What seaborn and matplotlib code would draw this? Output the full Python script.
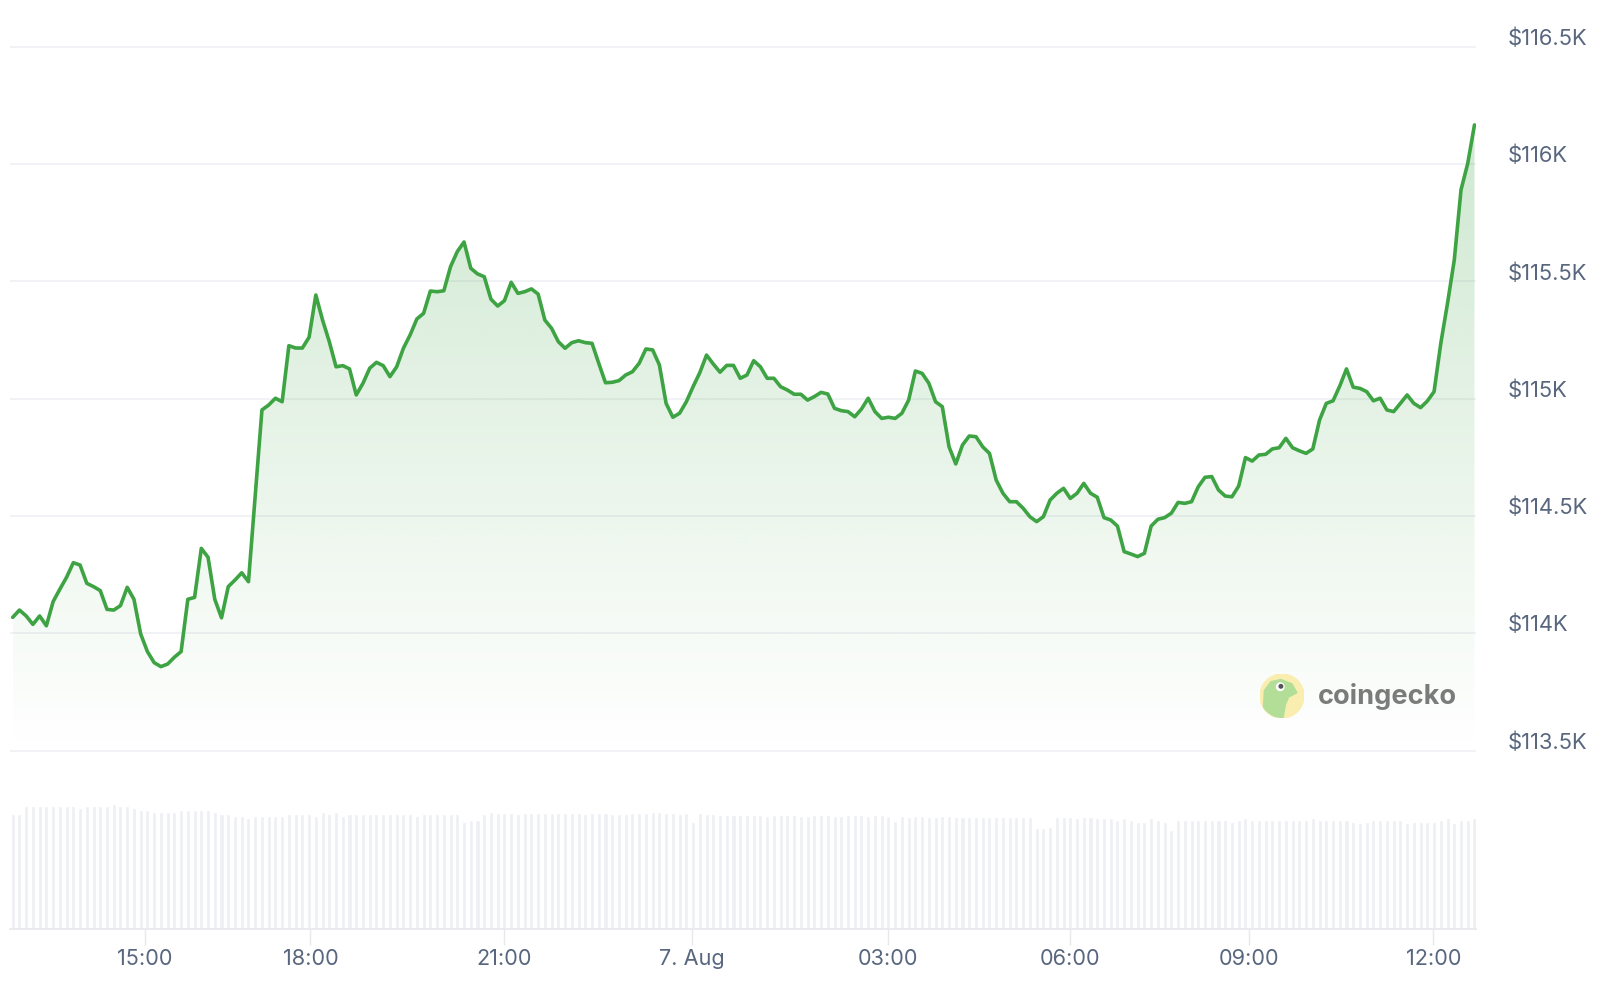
import numpy as np
import pandas as pd
import seaborn as sns
import matplotlib.pyplot as plt
from matplotlib.patches import Circle, Polygon
from matplotlib.transforms import ScaledTranslation

# Price (USD), one point every ~6.6 min
price = [
    114068, 114099, 114074, 114038, 114074, 114032, 114135, 114188, 114239, 114301,
    114291, 114213, 114199, 114182, 114102, 114099, 114118, 114196, 114145, 113997,
    113922, 113875, 113858, 113869, 113898, 113922, 114145, 114153, 114362, 114324,
    114145, 114066, 114199, 114227, 114258, 114220,
    114585, 114952, 114973, 115002, 114987, 115226, 115216, 115216, 115262, 115442,
    115335, 115243, 115136, 115141, 115127, 115016, 115066, 115130, 115155, 115141,
    115094, 115136, 115215, 115272, 115340, 115364, 115459, 115456, 115460, 115563,
    115627, 115668, 115556, 115532, 115520, 115424,
    115395, 115418, 115496, 115449, 115456, 115468, 115446, 115335, 115300, 115243,
    115215, 115239, 115247, 115239, 115236, 115151, 115068, 115070, 115077, 115101,
    115115, 115151, 115212, 115208, 115144, 114980, 114921, 114938, 114987, 115051,
    115111, 115186, 115148, 115113, 115142, 115142, 115087,
    115101, 115162, 115136, 115087, 115087, 115051, 115037, 115019, 115019, 114994,
    115009, 115027, 115020, 114959, 114949, 114945, 114923, 114956, 115002, 114945,
    114916, 114921, 114916, 114938, 114994, 115118, 115108, 115066, 114987, 114966,
    114795, 114722, 114803, 114841, 114838, 114795,
    114767, 114653, 114597, 114561, 114561, 114533, 114497, 114476, 114497, 114568,
    114597, 114618, 114575, 114597, 114639, 114597, 114580, 114493, 114483, 114457,
    114348, 114338, 114327, 114341, 114457, 114486, 114493, 114512, 114558, 114554,
    114561, 114625, 114665, 114668, 114611, 114585,
    114582, 114628, 114749, 114734, 114760, 114763, 114786, 114791, 114831, 114791,
    114778, 114767, 114786, 114909, 114980, 114991, 115054, 115127, 115049, 115044,
    115030, 114991, 115002, 114952, 114945, 114980, 115016, 114980, 114962, 114990,
    115030, 115236, 115407, 115591, 115890, 116003, 116167,
]

# Volume (USD bn, relative), one bar per price point
volume = [
    57.4, 57.4, 61.4, 61.4, 61.4, 61.4, 61.4, 61.4, 61.4, 61.4,
    60.2, 61.4, 61.4, 61.4, 61.4, 62.4, 61.4, 61.4, 60.2, 59.4,
    59.4, 58.4, 58.4, 58.4, 58.4, 59.4, 59.4, 59.4, 59.4, 59.4,
    58.4, 57.4, 57.4, 56.4, 56.4, 55.4, 56.4, 56.4, 56.4, 56.4,
    56.4, 57.4, 57.4, 57.4, 57.4, 56.4, 58.4, 57.4, 58.4, 56.4,
    57.4, 57.4, 57.4, 57.4, 57.4, 57.4, 57.4, 57.4, 57.4, 57.4,
    56.4, 57.4, 57.4, 57.4, 57.4, 57.4, 57.4, 53.4, 54.4, 54.4,
    57.4, 58.4, 58.0,
    57.7, 57.7, 57.2, 57.7, 57.7, 57.7, 57.7, 57.7, 57.7, 57.7,
    57.7, 57.7, 57.2, 57.7, 57.7, 57.7, 57.2, 57.2, 57.2, 57.7,
    57.7, 57.7, 58.2, 58.2, 57.7, 57.7, 57.2, 57.7,
    53.5,
    57.7, 57.2, 57.2, 56.7, 56.7, 56.7, 56.7, 56.7, 56.7, 56.7,
    56.2, 56.7, 56.7, 56.7, 56.7, 56.2, 56.2, 56.7, 56.7, 56.7,
    56.2, 56.2, 56.7, 56.7, 56.7, 56.2, 56.7, 56.7, 56.2,
    53.8,
    56.2, 55.7, 56.2, 56.2, 55.7, 55.7, 56.2, 56.2, 55.7, 55.7,
    55.7, 55.7, 55.7, 55.7, 55.7, 55.7, 55.7, 55.7, 55.7, 55.7,
    50.4, 50.4, 51.0,
    55.7, 55.7, 55.7, 55.2, 55.7, 55.7, 55.2,
    55.2, 55.2, 54.4, 55.2, 54.4, 53.5, 53.5, 55.2, 54.4, 53.5,
    49.4, 54.4, 54.4, 54.4, 54.4, 54.4, 54.4, 54.4, 54.4, 53.5,
    54.4, 55.2, 54.4, 54.4, 54.4, 54.4, 54.4, 54.4, 54.4, 54.4,
    54.4, 55.2, 54.4, 54.4, 54.4, 54.4, 54.4, 53.5, 52.7, 53.5,
    54.4, 54.4, 54.4, 54.4, 54.4, 52.7, 53.5, 53.5, 53.5, 53.5,
    54.4, 55.2, 52.7, 54.4, 54.4, 55.2,
]

# Time labels (ordinal axis: positions in point index)
tick_labels = ["15:00", "18:00", "21:00", "7. Aug", "03:00", "06:00", "09:00", "12:00"]
tick_pos = [19.6, 44.2, 72.9, 100.8, 130.0, 157.0, 183.5, 210.9]

price_ticks = [113500, 114000, 114500, 115000, 115500, 116000, 116500]
price_labels = ["$113.5K", "$114K", "$114.5K", "$115K", "$115.5K", "$116K", "$116.5K"]

df = pd.DataFrame({"idx": np.arange(len(price)), "price": price, "volume": volume})

sns.set_style("white")
plt.rcParams["font.family"] = ["Inter", "DejaVu Sans"]

GREEN = "#3da343"
LABEL = "#58667e"
GRID = "#eef0f3"

fig = plt.figure(figsize=(16, 9.99), dpi=100)
W, H = 1600, 999
x0, x1 = 10, 1476.5
xlim = (-0.4, 217.3)

# price pane
ax = fig.add_axes([x0 / W, (H - 755.3) / H, (x1 - x0) / W, (755.3 - 42.1) / H])
poly = ax.fill_between(df["idx"], df["price"], 113500, color="none", lw=0)
grad = np.zeros((256, 1, 4))
grad[:, 0, 0] = 0x3d / 255
grad[:, 0, 1] = 0xa3 / 255
grad[:, 0, 2] = 0x43 / 255
grad[:, 0, 3] = np.linspace(0.28, 0.0, 256)
im = ax.imshow(grad, extent=[0, len(price) - 1, 113500, 116500], aspect="auto",
               origin="upper", zorder=1)
im.set_clip_path(poly.get_paths()[0], transform=ax.transData)
sns.lineplot(data=df, x="idx", y="price", ax=ax, color=GREEN, linewidth=2.6, zorder=3)

ax.set_xlim(*xlim)
ax.set_ylim(113480, 116520)
ax.set_yticks(price_ticks)
ax.set_yticklabels(price_labels)
ax.yaxis.tick_right()
ax.tick_params(axis="y", length=0, pad=22.5, labelsize=15.8, labelcolor=LABEL)
for lab in ax.get_yticklabels():
    lab.set_horizontalalignment("left")
    lab.set_transform(lab.get_transform() + ScaledTranslation(0, 7.3 / 72, fig.dpi_scale_trans))
ax.set_xticks([])
ax.grid(axis="y", color=GRID, linewidth=1.2, zorder=0)
ax.set_xlabel("")
ax.set_ylabel("")
for s in ax.spines.values():
    s.set_visible(False)

# volume pane
axv = fig.add_axes([x0 / W, (H - 928.7) / H, (x1 - x0) / W, 158.7 / H])
sns.barplot(data=df, x="idx", y="volume", ax=axv, native_scale=True, color="#edeff3",
            width=0.6, errorbar=None, saturation=1)
axv.set_xlim(*xlim)
axv.set_ylim(0, 79.35)
axv.set_yticks([])
axv.set_xticks(tick_pos)
axv.set_xticklabels(tick_labels)
axv.tick_params(axis="x", length=11.5, width=1, color="#e6e8ec", direction="out",
                pad=3, labelsize=15.6, labelcolor=LABEL, bottom=True)
axv.set_xlabel("")
axv.set_ylabel("")
for k, s in axv.spines.items():
    s.set_visible(k == "bottom")
axv.spines["bottom"].set_color("#e6e8ec")
axv.spines["bottom"].set_linewidth(1.2)

# coingecko watermark
lax = fig.add_axes([(1282 - 22) / W, (H - 696 - 22) / H, 44 / W, 44 / H])
lax.set_xlim(-1, 1)
lax.set_ylim(-1, 1)
lax.axis("off")
ring = Circle((0, 0), 1, color="#f9eeb0")
lax.add_patch(ring)
head = Polygon([(-0.85, -0.6), (-0.8, 0.25), (-0.5, 0.65), (-0.05, 0.75), (0.45, 0.55),
                (0.68, 0.15), (0.3, -0.05), (0.15, -0.4), (0.05, -1.0), (-0.6, -0.9)],
               color="#b3de98")
lax.add_patch(head)
head.set_clip_path(ring)
lax.add_patch(Circle((-0.08, 0.42), 0.17, color="white"))
lax.add_patch(Circle((-0.05, 0.44), 0.08, color="#555555"))
fig.text(1318 / W, (H - 696) / H, "coingecko", fontsize=19.5, fontweight="bold",
         color="#7b7b7b", ha="left", va="center")

fig.savefig("out.png", dpi=100)
